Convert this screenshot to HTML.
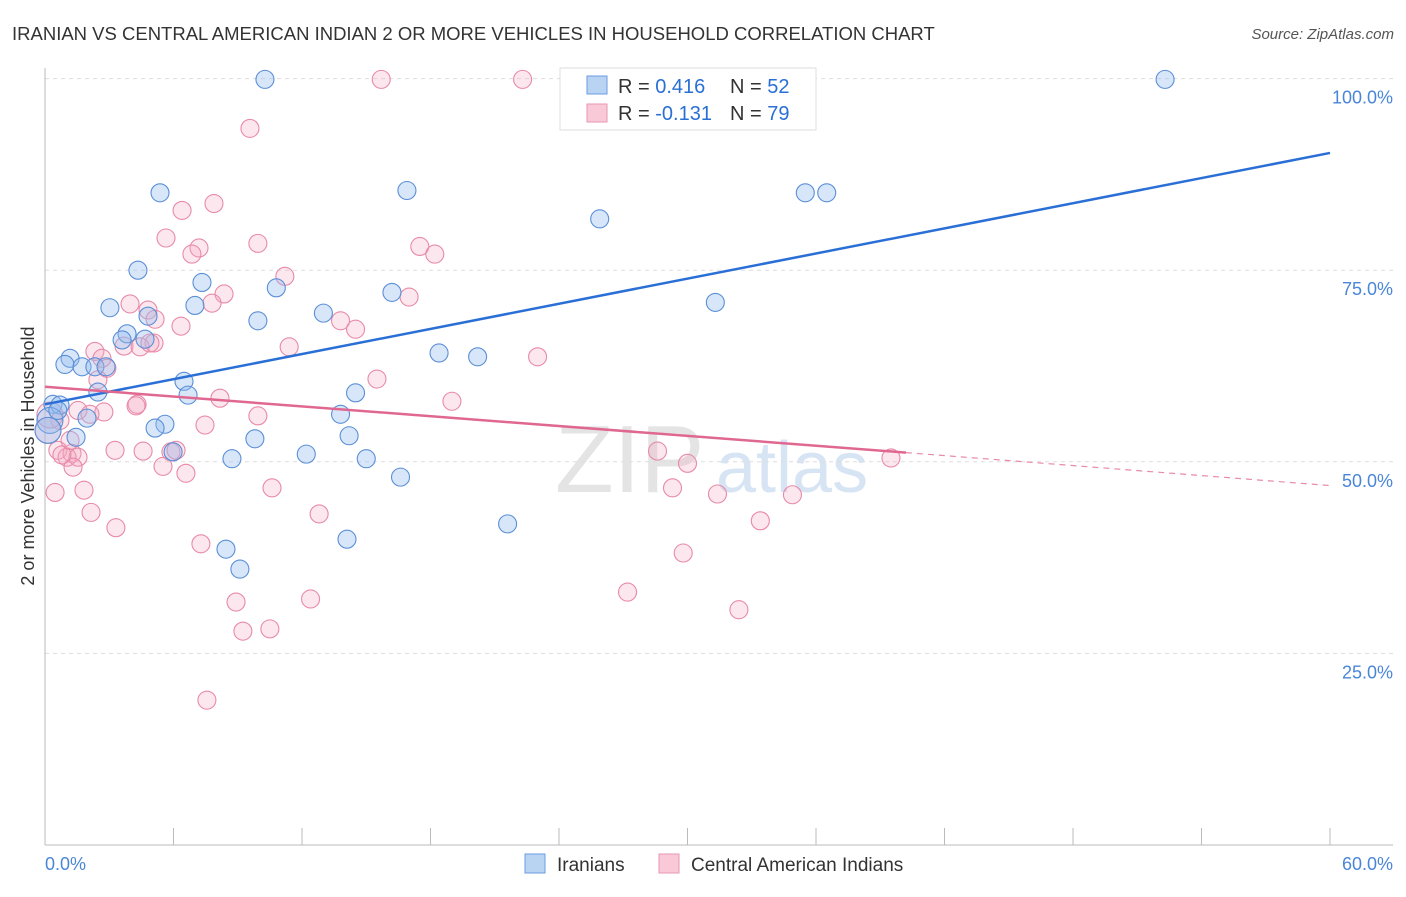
<!DOCTYPE html>
<html><head><meta charset="utf-8"><style>
body{margin:0;background:#fff;font-family:"Liberation Sans",sans-serif;}
svg text{font-family:"Liberation Sans",sans-serif;}
</style></head><body>
<svg id="chart" width="1406" height="892">
<text x="12" y="40" font-size="18.5" fill="#333">IRANIAN VS CENTRAL AMERICAN INDIAN 2 OR MORE VEHICLES IN HOUSEHOLD CORRELATION CHART</text>
<text x="1394" y="39" font-size="15" fill="#555" text-anchor="end" font-style="italic">Source: ZipAtlas.com</text>
<text x="0" y="0" transform="translate(34,456) rotate(-90)" font-size="18" fill="#333" text-anchor="middle">2 or more Vehicles in Household</text>
<text x="555" y="492" font-size="96" fill="#e4e4e4" font-family="Liberation Serif">ZIP</text>
<text x="716" y="492" font-size="72" fill="#d6e4f4">atlas</text>
<g id="grid"></g><g id="axes"></g><g id="pts"></g><g id="trends"></g>
<g>
<rect x="560" y="68" width="256" height="62" fill="#fff" stroke="#ddd"/>
<rect x="587" y="76" width="20" height="18" fill="#b9d3f3" stroke="#6a9be0"/>
<rect x="587" y="104" width="20" height="18" fill="#f9c9d8" stroke="#e896b2"/>
<text x="618" y="93" font-size="20" fill="#333">R = <tspan fill="#2a6fd6">0.416</tspan></text>
<text x="730" y="93" font-size="20" fill="#333">N = <tspan fill="#2a6fd6">52</tspan></text>
<text x="618" y="120" font-size="20" fill="#333">R = <tspan fill="#2a6fd6">-0.131</tspan></text>
<text x="730" y="120" font-size="20" fill="#333">N = <tspan fill="#2a6fd6">79</tspan></text>
</g>
<g>
<rect x="525" y="854" width="20" height="19" fill="#b9d3f3" stroke="#6a9be0"/>
<text x="557" y="871" font-size="19" fill="#333">Iranians</text>
<rect x="659" y="854" width="20" height="19" fill="#f9c9d8" stroke="#e896b2"/>
<text x="691" y="871" font-size="19" fill="#333">Central American Indians</text>
</g>
</svg>
<script>
const blueX=[10.27,52.3,5.37,16.9,35.5,36.5,25.9,4.34,7.33,10.8,16.2,31.3,3.03,7.0,13.0,9.94,4.81,3.83,4.67,3.6,18.4,20.2,1.17,0.93,1.73,2.33,2.85,6.49,2.47,6.68,14.5,0.37,0.7,1.96,13.8,5.6,5.14,1.45,14.2,9.8,5.98,12.2,8.73,15.0,16.6,21.6,14.1,8.45,9.1,0.23,0.6,0.14];
const blueY=[99.9,99.9,85.1,85.4,85.1,85.1,81.7,75.0,73.4,72.7,72.1,70.8,70.1,70.4,69.4,68.4,69.0,66.7,66.0,65.9,64.2,63.7,63.5,62.7,62.4,62.4,62.4,60.5,59.1,58.7,59.0,57.5,57.4,55.7,56.2,54.9,54.4,53.2,53.4,53.0,51.3,51.0,50.4,50.4,48.0,41.9,39.9,38.6,36.0,55.4,56.7,54.1];
const pinkX=[15.7,22.3,9.57,7.89,6.4,5.65,9.94,7.19,6.86,17.5,18.2,11.2,8.36,3.97,7.8,4.81,5.14,17.0,13.8,14.5,6.35,11.4,2.33,23.0,3.69,5.09,4.44,2.66,2.89,15.5,2.47,8.17,19.0,4.3,4.25,2.75,1.54,2.1,9.94,7.47,0.7,0.6,1.26,3.27,4.58,5.88,6.12,1.03,1.54,1.31,5.51,6.58,28.6,30.0,39.5,29.3,31.4,34.9,10.6,1.82,0.47,2.15,12.8,33.4,3.31,7.28,29.8,27.2,8.92,12.4,32.4,9.24,10.5,7.56,0.14,0.23,0.79,1.17,4.9];
const pinkY=[99.9,99.9,93.5,83.7,82.8,79.2,78.5,77.9,77.1,78.1,77.1,74.2,71.9,70.6,70.7,69.8,68.6,71.5,68.4,67.3,67.7,65.0,64.4,63.7,65.1,65.5,65.0,63.5,62.2,60.8,60.7,58.3,57.9,57.5,57.3,56.5,56.7,56.2,56.0,54.8,55.4,51.5,51.1,51.5,51.4,51.3,51.5,50.6,50.6,49.3,49.4,48.5,51.4,49.8,50.5,46.6,45.8,45.7,46.6,46.3,46.0,43.4,43.2,42.3,41.4,39.3,38.1,33.0,31.7,32.1,30.7,27.9,28.2,18.9,54.1,56.1,50.9,52.8,65.5];
const xTicks=[0,6,12,18,24,30,36,42,48,54,60];
const yTicks=[25,50,75,100];
const blueTrend=[[0,57.5],[60,90.3]];
const pinkTrendSolid=[[0,59.8],[40.2,51.2]];
const pinkTrendDash=[[40.2,51.2],[60,46.9]];
const X=v=>45+v/60*1285, Y=v=>845-v/100*766.4;
const NS='http://www.w3.org/2000/svg';
function mk(p,t,a){const e=document.createElementNS(NS,t);for(const k in a)e.setAttribute(k,a[k]);p.appendChild(e);return e;}
const grid=document.getElementById('grid'),axes=document.getElementById('axes'),pts=document.getElementById('pts'),tr=document.getElementById('trends');
yTicks.forEach(t=>{
 const l=mk(grid,'line',{x1:45,x2:1393,y1:Y(t),y2:Y(t),stroke:'#ddd','stroke-dasharray':'4,4'});
 
 
 const tx=mk(grid,'text',{x:1393,y:Y(t)+25,'font-size':18,fill:'#4a86d8','text-anchor':'end'});tx.textContent=t.toFixed(1)+'%';
 
 
});
let a=mk(axes,'line',{x1:45,x2:45,y1:68,y2:845,stroke:'#bbb'});


a=mk(axes,'line',{x1:45,x2:1393,y1:845,y2:845,stroke:'#bbb'});


xTicks.forEach(t=>{
 const l=mk(axes,'line',{x1:X(t),x2:X(t),y1:828,y2:845,stroke:'#bbb'});
 
 
});
[[0,'0.0%','start',45],[60,'60.0%','end',1393]].forEach(d=>{
 const tx=mk(axes,'text',{x:d[3],y:870,'font-size':18,fill:'#4a86d8','text-anchor':d[2]});tx.textContent=d[1];
 
 
});
function dots(xs,ys,fill,stroke,name){xs.forEach((x,i)=>{
 const r=(x<0.3)?13:9;
 const c=mk(pts,'circle',{cx:X(x),cy:Y(ys[i]),r:r,fill:fill,stroke:stroke,'stroke-width':1.1});
 
 
});}
dots(pinkX,pinkY,'rgba(246,170,195,0.28)','#e88aa8','point-central-american');
dots(blueX,blueY,'rgba(150,190,238,0.38)','#5b8fd6','point-iranian');
function line(d,st,w,dash,name){const l=mk(tr,'line',{x1:X(d[0][0]),y1:Y(d[0][1]),x2:X(d[1][0]),y2:Y(d[1][1]),stroke:st,'stroke-width':w});if(dash)l.setAttribute('stroke-dasharray',dash);
 
 }
line(blueTrend,'#2a6fd6',2.5,null,'trend-iranians');
line(pinkTrendSolid,'#e06890',2.5,null,'trend-central-american');
line(pinkTrendDash,'#e88aa8',1.2,'6,5','trend-central-american-extrapolated');
</script>
</body></html>
